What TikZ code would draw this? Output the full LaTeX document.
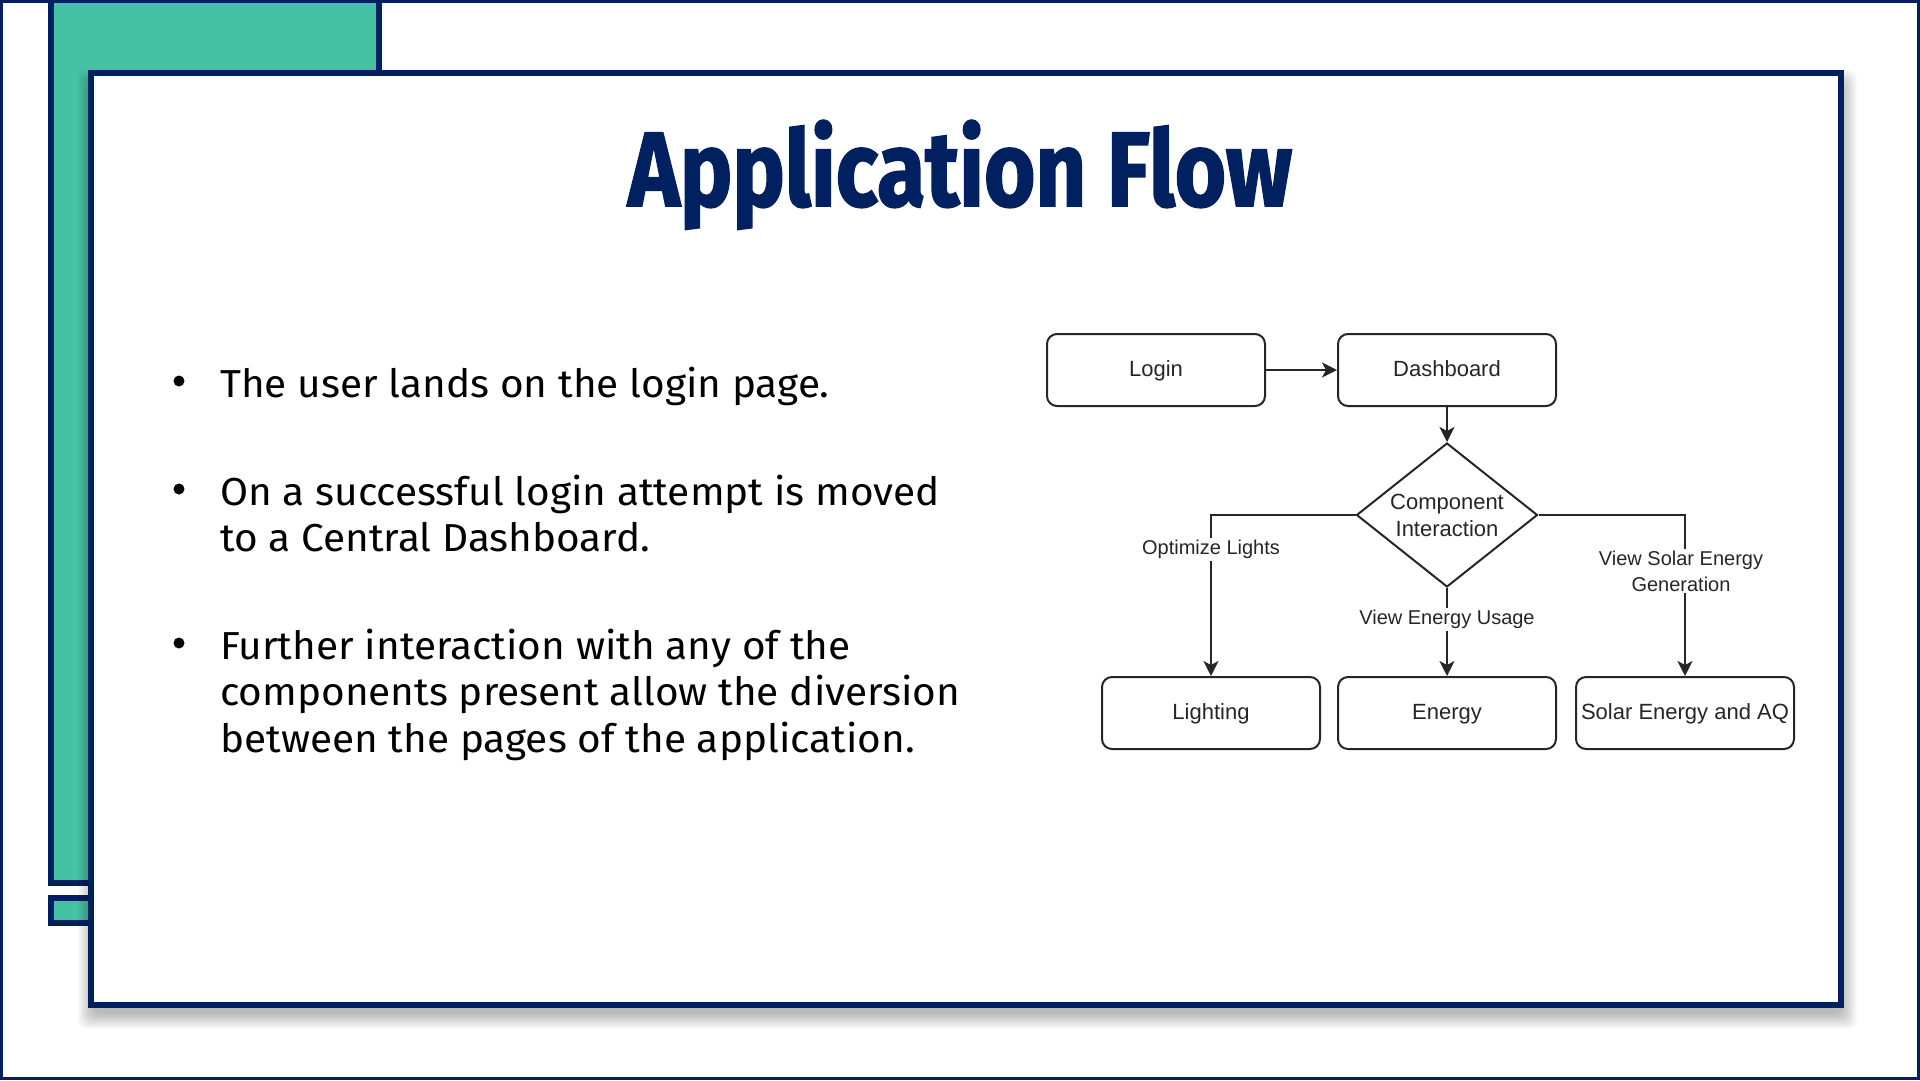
\documentclass[tikz,border=0pt]{standalone}
\usepackage{fontspec}
\setmainfont{Liberation Sans}
\newfontfamily\titlefont[FakeStretch=0.83,FakeBold=1.5]{Fira Sans}
\newfontfamily\bodyfont[FakeStretch=1.04]{Fira Sans}
\usetikzlibrary{shapes.geometric,arrows.meta}
\definecolor{navy}{HTML}{002060}
\definecolor{myteal}{HTML}{45C1A4}
\definecolor{ink}{HTML}{262626}
\tikzset{
  box/.style={draw=ink, line width=2pt, rounded corners=10pt, minimum width=218pt, minimum height=72pt,
    inner sep=0pt, text height=16pt, text depth=4pt, font=\fontsize{22}{26}\selectfont, text=ink},
  decision/.style={diamond, draw=ink, line width=2pt, shape aspect=1.257, minimum width=181pt, minimum height=144pt,
    inner sep=0pt, align=center, font=\fontsize{22}{27}\selectfont, text=ink},
  arr/.style={draw=ink, line width=2pt, -{Stealth[length=15pt,width=15pt,inset=4pt]}},
  elabel/.style={fill=white, inner sep=2pt, align=center, font=\fontsize{20}{26}\selectfont, text=ink},
  bodytext/.style={anchor=base west, inner sep=0pt, font=\bodyfont\fontsize{39}{46}\selectfont, text=black},
  bulletdot/.style={circle, fill=black, inner sep=0pt, minimum size=11pt}
}
\begin{document}
\begin{tikzpicture}[x=1pt,y=-1pt]
\useasboundingbox (0,0) rectangle (1920,1080);
\fill[white] (0,0) rectangle (1920,1080);
% teal decorations
\fill[navy] (48,0) rectangle (382,886);
\fill[myteal] (54,0) rectangle (376,880);
\fill[navy] (48,895) rectangle (100,926);
\fill[myteal] (54,901) rectangle (100,920);
% outer frame
\draw[navy, line width=3pt] (1.5,1.5) rectangle (1918.5,1078.5);
% soft shadow of the main panel
\foreach \k in {0,...,11}{
  \pgfmathsetmacro{\e}{12-1.4*\k}
  \fill[black, opacity=0.022, rounded corners=8pt]
    (90-\e,82-\e) rectangle (1845+\e,1017+\e);
}
% main panel
\draw[navy, line width=6pt, fill=white] (91,73) rectangle (1841,1005);
% title
\node[anchor=base, inner sep=0pt, text=navy, font=\titlefont\bfseries\fontsize{106}{110}\selectfont]
  (title) at (960,206) {Application Flow};
% bullets
\node[bulletdot] (b1) at (179,381) {};
\node[bodytext] (t1) at (220,397) {The user lands on the login page.};
\node[bulletdot] (b2) at (179,489) {};
\node[bodytext] (t2a) at (220,505) {On a successful login attempt is moved};
\node[bodytext] (t2b) at (220,551) {to a Central Dashboard.};
\node[bulletdot] (b3) at (179,643) {};
\node[bodytext] (t3a) at (220,659) {Further interaction with any of the};
\node[bodytext] (t3b) at (220,705) {components present allow the diversion};
\node[bodytext] (t3c) at (220,752) {between the pages of the application.};
% diagram
\node[box] (login) at (1156,370) {Login};
\node[box] (dash) at (1447,370) {Dashboard};
\node[decision] (ci) at (1447,515) {Component\\Interaction};
\node[box] (light) at (1211,713) {Lighting};
\node[box] (energy) at (1447,713) {Energy};
\node[box] (solar) at (1685,713) {Solar Energy and AQ};
\draw[arr] (login) -- (dash);
\draw[arr] (dash) -- (ci);
\draw[arr] (ci.west) -| (light.north);
\draw[arr] (ci.south) -- (energy.north);
\draw[arr] (ci.east) -| (solar.north);
\node[elabel] (l1) at (1211,549.5) {Optimize Lights};
\node[elabel] (l2) at (1447,619.5) {View Energy Usage};
\node[elabel] (l3) at (1681,571) {View Solar Energy\\Generation};
\end{tikzpicture}
\end{document}
